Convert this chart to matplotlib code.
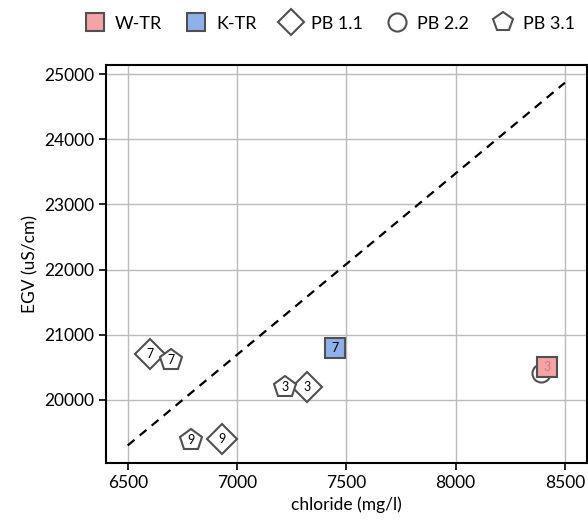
import matplotlib.pyplot as plt
from matplotlib.lines import Line2D

plt.rcParams['font.family'] = ['Lato', 'DejaVu Sans']

# data (chloride mg/l, EGV uS/cm, label)
wtr_cl = [8420]
wtr_egv = [20500]
wtr_lab = ["3"]

ktr_cl = [7450]
ktr_egv = [20800]
ktr_lab = ["7"]

pb11_cl = [6600, 7320, 6930]
pb11_egv = [20700, 20200, 19400]
pb11_lab = ["7", "3", "9"]

pb22_cl = [8390]
pb22_egv = [20420]
pb22_lab = [""]

pb31_cl = [6700, 7220, 6790]
pb31_egv = [20610, 20200, 19380]
pb31_lab = ["7", "3", "9"]

line_cl = [6500, 8500]
line_egv = [19300, 24870]

fig = plt.figure(figsize=(5.88, 5.25), dpi=100)
ax = fig.add_axes([0.180, 0.118, 0.818, 0.758])

ax.grid(True, color='#bbbbbb', linewidth=1)
ax.set_axisbelow(True)

ax.plot(line_cl, line_egv, color='black', linestyle='--', linewidth=1.6, dashes=(4, 3), zorder=2)

edge = '#505050'
series = [
    (pb22_cl, pb22_egv, pb22_lab, 'o', 13, 'white', 'black'),
    (pb11_cl, pb11_egv, pb11_lab, 'D', 15, 'white', 'black'),
    (pb31_cl, pb31_egv, pb31_lab, 'p', 16, 'white', 'black'),
    (ktr_cl, ktr_egv, ktr_lab, 's', 14, '#8fb0ea', 'black'),
    (wtr_cl, wtr_egv, wtr_lab, 's', 14, '#f4a3a6', '#d07a7e'),
]
z = 3
for xs, ys, labs, m, ms, fc, tc in series:
    ax.plot(xs, ys, linestyle='none', marker=m, markersize=ms, markerfacecolor=fc,
            markeredgecolor=edge, markeredgewidth=1.5, zorder=z)
    for x, y, t in zip(xs, ys, labs):
        ax.text(x, y, t, ha='center', va='center', fontsize=9, color=tc, zorder=z + 0.5)
    z += 1

ax.set_xlim(6400, 8600)
ax.set_ylim(19030, 25140)
ax.set_xticks([6500, 7000, 7500, 8000, 8500])
ax.set_yticks([20000, 21000, 22000, 23000, 24000, 25000])
ax.tick_params(labelsize=12.5, length=5, width=1.2)
for s in ax.spines.values():
    s.set_linewidth(1.5)

ax.set_xlabel("chloride (mg/l)", fontsize=12.5)
ax.set_ylabel("EGV (uS/cm)", fontsize=12.5)

handles = [
    Line2D([], [], linestyle='none', marker='s', markersize=13, markerfacecolor='#f4a3a6', markeredgecolor=edge, markeredgewidth=1.5),
    Line2D([], [], linestyle='none', marker='s', markersize=13, markerfacecolor='#8fb0ea', markeredgecolor=edge, markeredgewidth=1.5),
    Line2D([], [], linestyle='none', marker='D', markersize=13, markerfacecolor='white', markeredgecolor=edge, markeredgewidth=1.5),
    Line2D([], [], linestyle='none', marker='o', markersize=13, markerfacecolor='white', markeredgecolor=edge, markeredgewidth=1.5),
    Line2D([], [], linestyle='none', marker='p', markersize=15, markerfacecolor='white', markeredgecolor=edge, markeredgewidth=1.5),
]
labels = ["W-TR", "K-TR", "PB 1.1", "PB 2.2", "PB 3.1"]
fig.legend(handles, labels, loc='center right', bbox_to_anchor=(1.005, 0.955), ncol=5,
           frameon=False, fontsize=13, handletextpad=0.5, columnspacing=1.3, handlelength=1.2)

fig.savefig("out.png", dpi=100)
